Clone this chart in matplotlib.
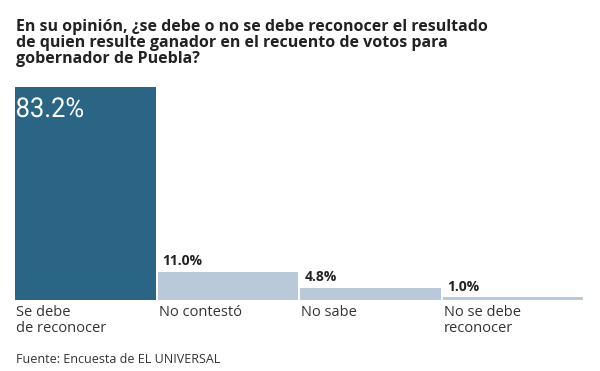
import matplotlib
matplotlib.use("Agg")
import matplotlib.pyplot as plt
from matplotlib.textpath import TextPath
from matplotlib.patches import PathPatch
from matplotlib.font_manager import FontProperties
from matplotlib.transforms import Affine2D

categories = ["Se debe\nde reconocer", "No contestó", "No sabe", "No se debe\nreconocer"]
values = [83.2, 11.0, 4.8, 1.0]
value_labels = ["83.2%", "11.0%", "4.8%", "1.0%"]
colors = ["#2b6585", "#b9c9da", "#b9c9da", "#b9c9da"]

title = ("En su opinión, ¿se debe o no se debe reconocer el resultado\n"
         "de quien resulte ganador en el recuento de votos para\n"
         "gobernador de Puebla?")
source = "Fuente: Encuesta de EL UNIVERSAL"

plt.rcParams['font.family'] = ['Open Sans', 'DejaVu Sans']

W, H = 600, 371
fig = plt.figure(figsize=(6, 3.71), dpi=100)
ax = fig.add_axes([15/W, 1-300/H, 570/W, 213/H])

x = range(len(values))
ax.bar(x, values, width=0.986, align='edge', color=colors)
ax.set_xlim(0, 4)
ax.set_ylim(0, 83.2)
ax.axis('off')

for i, (v, lab, cat) in enumerate(zip(values, value_labels, categories)):
    if i > 0:
        ax.text(i + 0.03, v + 1.4, lab, color='#222222', fontsize=10,
                fontweight='bold', va='bottom', ha='left')
    ax.text(i + 0.01, -2.0, cat, color='#333333', fontsize=10.5,
            va='top', ha='left', linespacing=1.05)

# big condensed label inside the first bar (squeezed text path)
tp = TextPath((0, 0), value_labels[0], size=28, prop=FontProperties(family='Roboto'))
ext = tp.get_extents()
sx = 66 / ext.width
sy = 20 / ext.height
tr = (Affine2D().translate(-ext.x0, 0).scale(sx / W, sy / H)
      .translate(17 / W, 1 - 117 / H) + fig.transFigure)
fig.patches.append(PathPatch(tp, transform=tr, facecolor='white', edgecolor='none'))

fig.text(16/W, 1-63/H, title, fontsize=11.5, fontweight='bold',
         color='#222222', va='baseline', ha='left', linespacing=1.0)
fig.text(16/W, 1-363/H, source, fontsize=9, color='#333333',
         va='baseline', ha='left')

fig.savefig("out.png", dpi=100, facecolor='white')
